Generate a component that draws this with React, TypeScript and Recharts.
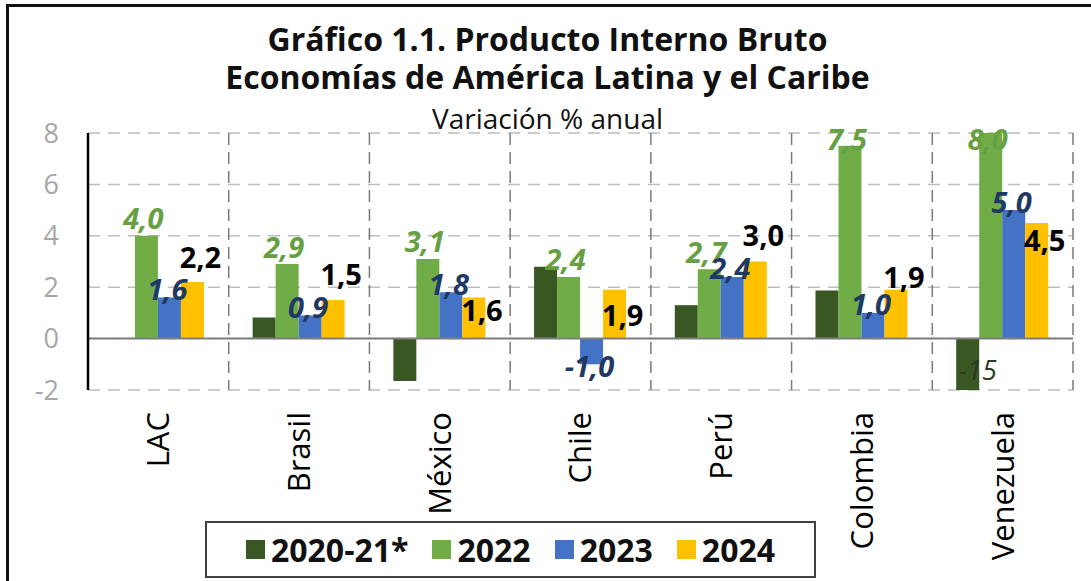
import { BarChart, Bar, XAxis, YAxis, CartesianGrid, ReferenceLine, LabelList } from 'recharts';

const countries = ['LAC', 'Brasil', 'México', 'Chile', 'Perú', 'Colombia', 'Venezuela'];
const gdp2020_21: (number | null)[] = [null, 0.82, -1.65, 2.8, 1.3, 1.87, -15];
const gdp2022 = [4.0, 2.9, 3.1, 2.4, 2.7, 7.5, 8.0];
const gdp2023 = [1.6, 0.9, 1.8, -1.0, 2.4, 1.0, 5.0];
const gdp2024 = [2.2, 1.5, 1.6, 1.9, 3.0, 1.9, 4.5];
const yTicks = [-2, 0, 2, 4, 6, 8];

const seriesNames = ['2020-21*', '2022', '2023', '2024'];
const seriesColors = ['#385723', '#70ad47', '#4472c4', '#ffc000'];

// 2024 labels were hand placed in the original (Excel), nudge them the same way
const lift2024 = [-26, -27, 12, 25, -27, -13, 17];

const FONT = '"Open Sans", sans-serif';
const Y_MIN = -2;

const data = countries.map((name, i) => ({
  name,
  a: gdp2020_21[i],
  b: gdp2022[i],
  c: gdp2023[i],
  d: gdp2024[i],
}));

const fmt = (v: number) => v.toFixed(1).replace('.', ',');

const span = (p: any) => {
  const y = Number(p.y);
  const h = Number(p.height);
  return { top: Math.min(y, y + h), bottom: Math.max(y, y + h), cx: Number(p.x) + Number(p.width) / 2 };
};

const DarkLabel = (p: any) => {
  if (p.value == null || p.value >= Y_MIN) return null;
  const { top, cx } = span(p);
  return (
    <text x={cx + 10} y={top + 31} textAnchor="middle" dominantBaseline="central"
      fill="#2b3a20" fontSize={27} fontStyle="italic" fontFamily={FONT}>
      {Math.round(p.value)}
    </text>
  );
};

const GreenLabel = (p: any) => {
  if (p.value == null) return null;
  const { top, cx } = span(p);
  return (
    <text x={cx - 3} y={Math.max(top - 18, 138)} textAnchor="middle" dominantBaseline="central"
      fill="#66a043" fontSize={29} fontWeight={700} fontStyle="italic" fontFamily={FONT}>
      {fmt(p.value)}
    </text>
  );
};

const BlueLabel = (p: any) => {
  if (p.value == null) return null;
  const { top, bottom, cx } = span(p);
  const cy = p.value >= 0 ? top - 9 : bottom + 1;
  return (
    <text x={cx - 2} y={cy} textAnchor="middle" dominantBaseline="central"
      fill="#1f3864" fontSize={29} fontWeight={700} fontStyle="italic" fontFamily={FONT}>
      {fmt(p.value)}
    </text>
  );
};

const BlackLabel = (p: any) => {
  if (p.value == null) return null;
  const { top, cx } = span(p);
  return (
    <text x={cx + 8} y={top + (lift2024[p.index] ?? -20)} textAnchor="middle" dominantBaseline="central"
      fill="#000" fontSize={29} fontWeight={700} fontFamily={FONT}>
      {fmt(p.value)}
    </text>
  );
};

const CountryTick = (p: any) => (
  <g transform={`translate(${p.x},${p.y})`}>
    <text transform="rotate(-90)" x={-14} y={0} dy="0.35em" textAnchor="end"
      fill="#000" fontSize={31} fontFamily={FONT}>
      {p.payload.value}
    </text>
  </g>
);

const App = () => {
  return (
    <div style={{ position: 'absolute', left: 0, top: 0, width: 1091, height: 581, background: '#fff', overflow: 'hidden', fontFamily: FONT }}>
      <div style={{ position: 'absolute', left: 6, top: 4, width: 1200, height: 700, borderLeft: '3px solid #111', borderTop: '3px solid #111' }} />
      <div style={{ position: 'absolute', left: 0, width: 1091, top: 20, textAlign: 'center', fontWeight: 700, fontSize: 32, lineHeight: '38px', color: '#111' }}>
        <div style={{ paddingLeft: 4 }}>Gráfico 1.1. Producto Interno Bruto</div>
        <div style={{ paddingLeft: 4 }}>Economías de América Latina y el Caribe</div>
      </div>
      <div style={{ position: 'absolute', left: 0, width: 1091, top: 101, textAlign: 'center', fontSize: 28, lineHeight: '34px', color: '#111', paddingLeft: 2 }}>
        Variación % anual
      </div>

      <div style={{ position: 'absolute', left: 0, top: 0 }}>
        <BarChart width={1091} height={581} data={data} barCategoryGap="17%" barGap={0}
          margin={{ top: 133, right: 18, left: 28, bottom: 91 }}>
          <CartesianGrid vertical={false} stroke="#bdbdbd" strokeDasharray="12 8" strokeWidth={1.5} />
          <CartesianGrid horizontal={false} stroke="#7a7a7a" strokeDasharray="12 7" strokeWidth={1.5}
            verticalCoordinatesGenerator={({ offset }: any) =>
              countries.map((_, i) => offset.left + (offset.width * (i + 1)) / countries.length)} />
          <XAxis dataKey="name" axisLine={false} tickLine={false} interval={0} height={100} tick={<CountryTick />} />
          <YAxis domain={[Y_MIN, 8]} ticks={yTicks} allowDataOverflow width={60}
            axisLine={{ stroke: '#000', strokeWidth: 2.5 }} tickLine={false} tickMargin={23}
            tick={{ fill: '#a6a6a6', fontSize: 27, fontFamily: FONT }} />
          <ReferenceLine y={0} stroke="#7f7f7f" strokeWidth={2} />
          <Bar dataKey="a" name={seriesNames[0]} fill={seriesColors[0]} isAnimationActive={false}>
            <LabelList dataKey="a" content={<DarkLabel />} />
          </Bar>
          <Bar dataKey="b" name={seriesNames[1]} fill={seriesColors[1]} isAnimationActive={false}>
            <LabelList dataKey="b" content={<GreenLabel />} />
          </Bar>
          <Bar dataKey="c" name={seriesNames[2]} fill={seriesColors[2]} isAnimationActive={false}>
            <LabelList dataKey="c" content={<BlueLabel />} />
          </Bar>
          <Bar dataKey="d" name={seriesNames[3]} fill={seriesColors[3]} isAnimationActive={false}>
            <LabelList dataKey="d" content={<BlackLabel />} />
          </Bar>
        </BarChart>
      </div>

      <div style={{ position: 'absolute', left: 205, top: 521, width: 607, height: 53, border: '2px solid #404040', display: 'flex', alignItems: 'center', justifyContent: 'center', gap: 24, background: '#fff' }}>
        {seriesNames.map((s, i) => (
          <div key={s} style={{ display: 'flex', alignItems: 'center', gap: 6 }}>
            <span style={{ display: 'inline-block', width: 19, height: 19, background: seriesColors[i] }} />
            <span style={{ fontWeight: 700, fontSize: 32, lineHeight: '36px', color: '#111' }}>{s}</span>
          </div>
        ))}
      </div>
    </div>
  );
};

export default App;
